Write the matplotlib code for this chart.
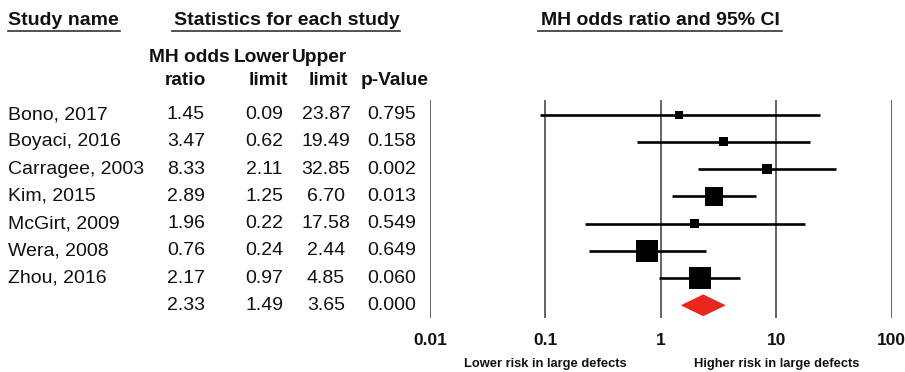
import numpy as np
import matplotlib
matplotlib.use('Agg')
import matplotlib.pyplot as plt
import matplotlib.transforms as mtransforms

plt.rcParams['font.family'] = ['Liberation Sans', 'DejaVu Sans']

# data
studies = ["Bono, 2017", "Boyaci, 2016", "Carragee, 2003", "Kim, 2015",
           "McGirt, 2009", "Wera, 2008", "Zhou, 2016"]
odds = [1.45, 3.47, 8.33, 2.89, 1.96, 0.76, 2.17]
lower = [0.09, 0.62, 2.11, 1.25, 0.22, 0.24, 0.97]
upper = [23.87, 19.49, 32.85, 6.70, 17.58, 2.44, 4.85]
pvals = [0.795, 0.158, 0.002, 0.013, 0.549, 0.649, 0.060]
weights = [3.9, 4.9, 6.1, 21.3, 5.5, 28.7, 29.5]   # relative weight (%)

pooled = (2.33, 1.49, 3.65, 0.000)
tick_vals = [0.01, 0.1, 1, 10, 100]
tick_labels = ["0.01", "0.1", "1", "10", "100"]

W, H = 905, 372
ROW0, ROWH = 114.7, 27.23   # pixel y of first row and row spacing


def row_of(ypx):
	return (ypx - ROW0) / ROWH


def main():
	fig = plt.figure(figsize=(W / 100, H / 100), dpi=100)
	fig.patch.set_facecolor('white')

	top, bot = 100, 318
	ylim = (row_of(bot), row_of(top))

	# forest panel
	fl, fr = 430, 891.7
	axf = fig.add_axes([fl / W, 1 - bot / H, (fr - fl) / W, (bot - top) / H])
	axf.set_xscale('log')
	axf.set_xlim(0.01, 100)
	axf.set_ylim(*ylim)
	axf.axis('off')

	# table panel, x in pixels
	axt = fig.add_axes([0, 1 - bot / H, fl / W, (bot - top) / H])
	axt.set_xlim(0, fl)
	axt.set_ylim(*ylim)
	axt.axis('off')

	for v in tick_vals:
		axf.axvline(v, color='#4a4a4a', lw=1.2, zorder=1)

	n = len(studies)
	rows = np.arange(n)
	axf.hlines(rows, lower, upper, color='black', lw=1.9, zorder=2)
	side_px = 4.05 * np.sqrt(weights)
	axf.scatter(odds, rows, marker='s', s=(side_px * 0.72) ** 2,
		color='black', zorder=3, linewidths=0)

	# pooled diamond
	pr = n
	est, lo, hi, _ = pooled
	axf.fill([lo, est, hi, est], [pr, pr - 0.4, pr, pr + 0.4],
		color='#e8261e', lw=0, zorder=3)

	# axis labels under the panel
	for v, lab in zip(tick_vals, tick_labels):
		axf.text(v, row_of(340), lab, ha='center', va='center',
			fontsize=12.5, fontweight='bold', color='#111111')
	axf.text(0.1, row_of(364), "Lower risk in large defects", ha='center',
		va='center', fontsize=9.3, fontweight='bold', color='#111111')
	axf.text(10, row_of(364), "Higher risk in large defects", ha='center',
		va='center', fontsize=9.3, fontweight='bold', color='#111111')

	# section titles with underlines
	ty, uy = row_of(20), row_of(30.5)
	axt.text(8, ty, "Study name", ha='left', va='center', fontsize=14,
		fontweight='bold', color='#111111')
	axt.plot([8, 120], [uy, uy], color='#333333', lw=1.2, clip_on=False)
	axt.text(287, ty, "Statistics for each study", ha='center', va='center',
		fontsize=14, fontweight='bold', color='#111111')
	axt.plot([172, 400], [uy, uy], color='#333333', lw=1.2, clip_on=False)

	blend = mtransforms.blended_transform_factory(axf.transAxes, axf.transData)
	axf.text(1, ty, "MH odds ratio and 95% CI", ha='center', va='center',
		fontsize=14, fontweight='bold', color='#111111')
	axf.plot([(538 - fl) / (fr - fl), (782 - fl) / (fr - fl)], [uy, uy],
		transform=blend, color='#333333', lw=1.2, clip_on=False)

	# column headers
	h1, h2 = row_of(57), row_of(80)
	hdr = dict(va='center', ha='center', fontsize=13.8, fontweight='bold', color='#111111')
	axt.text(189, h1, "MH odds", **hdr)
	axt.text(185, h2, "ratio", **hdr)
	axt.text(262, h1, "Lower", **hdr)
	axt.text(268, h2, "limit", **hdr)
	axt.text(319, h1, "Upper", **hdr)
	axt.text(328, h2, "limit", **hdr)
	axt.text(395, h2, "p-Value", **hdr)

	# table body
	cell = dict(va='center', ha='center', fontsize=14, color='#111111')
	for i in range(n):
		axt.text(8, i, studies[i], va='center', ha='left', fontsize=14, color='#111111')
		axt.text(186, i, "%.2f" % odds[i], **cell)
		axt.text(264, i, "%.2f" % lower[i], **cell)
		axt.text(326, i, "%.2f" % upper[i], **cell)
		axt.text(392, i, "%.3f" % pvals[i], **cell)
	axt.text(186, pr, "%.2f" % pooled[0], **cell)
	axt.text(264, pr, "%.2f" % pooled[1], **cell)
	axt.text(326, pr, "%.2f" % pooled[2], **cell)
	axt.text(392, pr, "%.3f" % pooled[3], **cell)

	fig.savefig('out.png', dpi=100)


if __name__ == "__main__":
	main()
